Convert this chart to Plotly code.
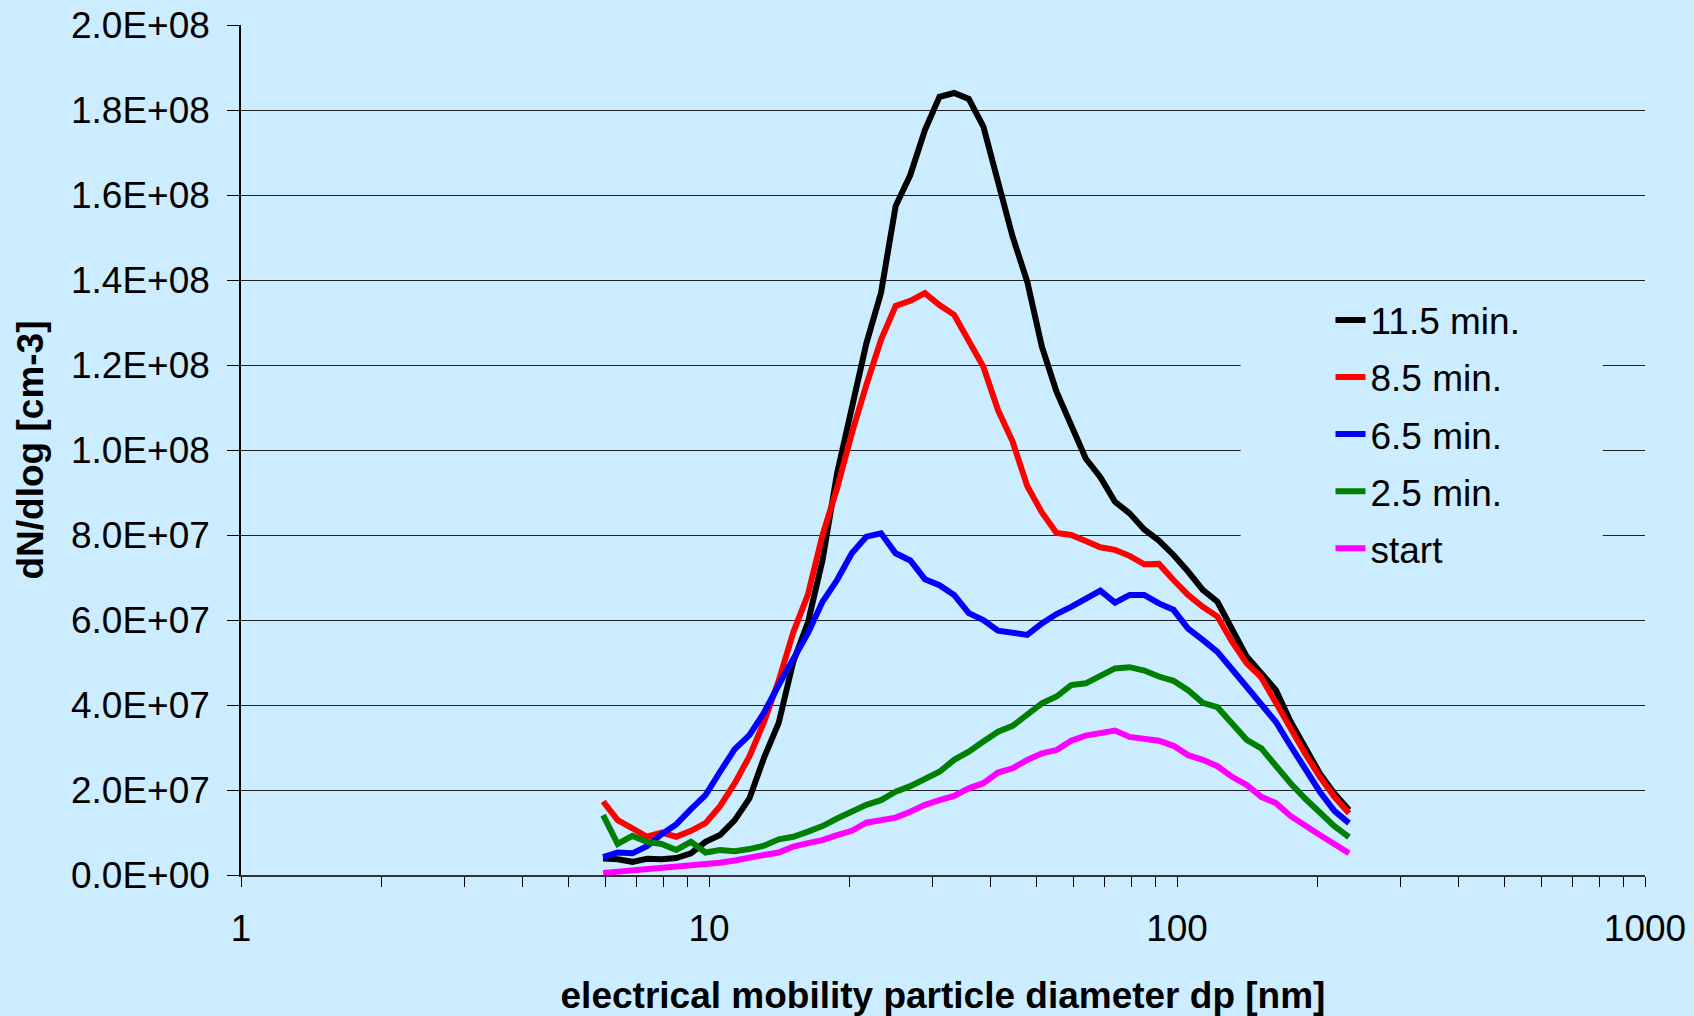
import plotly.graph_objects as go

# ---------------- data ----------------
diameter_nm = [5.94, 6.38, 6.86, 7.37, 7.92, 8.51, 9.15, 9.83, 10.56, 11.35,
               12.20, 13.11, 14.09, 15.14, 16.27, 17.48, 18.78, 20.19, 21.69, 23.31,
               25.05, 26.92, 28.93, 31.08, 33.40, 35.90, 38.57, 41.45, 44.54, 47.87,
               51.44, 55.28, 59.40, 63.83, 68.59, 73.71, 79.21, 85.12, 91.47, 98.29,
               105.6, 113.5, 122.0, 131.1, 140.9, 151.4, 162.7, 174.8, 187.8, 201.9,
               216.9, 233.1]

# dN/dlog values in units of 1E+07 cm-3
min_11_5 = [0.39, 0.37, 0.31, 0.38, 0.37, 0.40, 0.51, 0.78, 0.94, 1.29,
            1.80, 2.76, 3.58, 5.02, 5.94, 7.41, 9.45, 11.06, 12.51, 13.70,
            15.74, 16.47, 17.53, 18.31, 18.40, 18.26, 17.61, 16.31, 15.02, 13.96,
            12.43, 11.37, 10.55, 9.80, 9.36, 8.78, 8.51, 8.13, 7.87, 7.53,
            7.14, 6.71, 6.43, 5.76, 5.14, 4.75, 4.35, 3.61, 2.98, 2.39,
            1.92, 1.53]
min_8_5 = [1.73, 1.29, 1.10, 0.90, 1.00, 0.90, 1.04, 1.22, 1.62, 2.16,
           2.79, 3.60, 4.57, 5.71, 6.60, 8.00, 9.10, 10.39, 11.53, 12.59,
           13.39, 13.51, 13.69, 13.41, 13.18, 12.59, 11.96, 10.94, 10.20, 9.15,
           8.53, 8.05, 8.00, 7.86, 7.71, 7.65, 7.51, 7.31, 7.32, 6.94,
           6.59, 6.31, 6.08, 5.49, 4.98, 4.65, 4.04, 3.41, 2.86, 2.31,
           1.84, 1.45]
min_6_5 = [0.42, 0.53, 0.51, 0.68, 0.96, 1.19, 1.55, 1.88, 2.43, 2.96,
           3.29, 3.82, 4.47, 5.10, 5.69, 6.43, 6.94, 7.57, 7.96, 8.04,
           7.57, 7.40, 6.96, 6.82, 6.59, 6.16, 6.00, 5.75, 5.69, 5.65,
           5.92, 6.14, 6.31, 6.51, 6.69, 6.41, 6.59, 6.59, 6.39, 6.24,
           5.80, 5.53, 5.25, 4.84, 4.43, 4.04, 3.60, 3.04, 2.48, 1.96,
           1.51, 1.22]
min_2_5 = [1.41, 0.73, 0.92, 0.78, 0.73, 0.59, 0.78, 0.53, 0.59, 0.56,
           0.61, 0.69, 0.84, 0.90, 1.02, 1.15, 1.33, 1.49, 1.65, 1.76,
           1.96, 2.09, 2.25, 2.43, 2.71, 2.90, 3.14, 3.37, 3.51, 3.76,
           4.04, 4.20, 4.47, 4.51, 4.67, 4.86, 4.89, 4.81, 4.67, 4.57,
           4.35, 4.05, 3.95, 3.57, 3.18, 2.98, 2.55, 2.16, 1.80, 1.45,
           1.15, 0.89]
start = [0.05, 0.08, 0.12, 0.12, 0.15, 0.20, 0.22, 0.25, 0.29, 0.34,
         0.42, 0.47, 0.53, 0.67, 0.75, 0.82, 0.94, 1.04, 1.23, 1.29,
         1.35, 1.49, 1.65, 1.76, 1.86, 2.04, 2.16, 2.41, 2.51, 2.71,
         2.86, 2.94, 3.16, 3.28, 3.33, 3.40, 3.25, 3.19, 3.16, 3.04,
         2.82, 2.71, 2.56, 2.31, 2.12, 1.84, 1.69, 1.39, 1.15, 0.94,
         0.73, 0.51]

series_names = ["11.5 min.", "8.5 min.", "6.5 min.", "2.5 min.", "start"]
series_values = [min_11_5, min_8_5, min_6_5, min_2_5, start]
series_colors = ["#000000", "#FF0000", "#0000FF", "#008000", "#FF00FF"]

y_tick_values = [0, 2e7, 4e7, 6e7, 8e7, 1e8, 1.2e8, 1.4e8, 1.6e8, 1.8e8, 2e8]
y_tick_labels = ["0.0E+00", "2.0E+07", "4.0E+07", "6.0E+07", "8.0E+07", "1.0E+08",
                 "1.2E+08", "1.4E+08", "1.6E+08", "1.8E+08", "2.0E+08"]
x_major_ticks = [1, 10, 100, 1000]
x_major_labels = ["1", "10", "100", "1000"]
x_minor_ticks = [2, 3, 4, 5, 6, 7, 8, 9, 20, 30, 40, 50, 60, 70, 80, 90,
                 200, 300, 400, 500, 600, 700, 800, 900]
x_grid_ticks = [10, 100]

UNIT = 1e7
BG = "#CCECFF"
FONT = "Liberation Sans, Arial, sans-serif"

# ---------------- figure ----------------
fig = go.Figure()
for name, vals, col in zip(series_names, series_values, series_colors):
    fig.add_trace(go.Scatter(
        x=diameter_nm, y=[v * UNIT for v in vals], mode="lines", name=name,
        legendgroup=name, line=dict(color=col, width=6), xaxis="x", yaxis="y"))

all_x_ticks = x_major_ticks + x_minor_ticks
all_x_text = x_major_labels + [""] * len(x_minor_ticks)

fig.update_layout(
    width=1694, height=1016,
    margin=dict(l=241, r=49, t=25, b=141),
    paper_bgcolor=BG, plot_bgcolor=BG,
    font=dict(family=FONT, size=37, color="black"),
    showlegend=True,
    legend=dict(x=0.776, y=0.689, xanchor="left", yanchor="top",
                bgcolor=BG, borderwidth=0, tracegroupgap=6,
                font=dict(family=FONT, size=37, color="black")),
    # legend box area of the original chart hides the grid lines behind it
    shapes=[dict(type="rect", xref="paper", yref="paper",
                 x0=0.712, x1=0.97, y0=0.345, y1=0.69,
                 fillcolor=BG, line=dict(width=0), layer="above")],
    xaxis=dict(type="log", range=[0, 3], tickmode="array",
               tickvals=all_x_ticks, ticktext=all_x_text,
               ticks="outside", ticklen=10, tickwidth=1, tickcolor="black",
               ticklabelstandoff=10,
               showline=True, linecolor="#333333", linewidth=2,
               showgrid=False, zeroline=False, automargin=False,
               title=dict(text="electrical mobility particle diameter dp [nm]",
                          font=dict(family=FONT, size=37, weight="bold"),
                          standoff=34)),
    xaxis2=dict(type="log", range=[0, 3], overlaying="x", anchor="y",
                tickmode="array", tickvals=all_x_ticks, ticks="inside",
                ticklen=9, tickwidth=1, tickcolor="black",
                showticklabels=False, showgrid=False, showline=False,
                zeroline=False, automargin=False),
    xaxis3=dict(type="log", range=[0, 3], overlaying="x", anchor="y",
                tickmode="array", tickvals=x_grid_ticks, ticks="",
                showticklabels=False, showgrid=True, gridcolor="#111111",
                gridwidth=1, showline=False, zeroline=False, automargin=False,
                layer="below traces"),
    yaxis=dict(range=[0, 2e8], tickmode="array",
               tickvals=y_tick_values, ticktext=y_tick_labels,
               ticks="outside", ticklen=12, tickwidth=1, tickcolor="black",
               ticklabelstandoff=10,
               showline=True, linecolor="black", linewidth=1.5,
               showgrid=True, gridcolor="#222222", gridwidth=1,
               zeroline=False, automargin=False,
               title=dict(text="dN/dlog [cm-3]",
                          font=dict(family=FONT, size=37, weight="bold"),
                          standoff=16)),
)

fig.write_html("out.html")
